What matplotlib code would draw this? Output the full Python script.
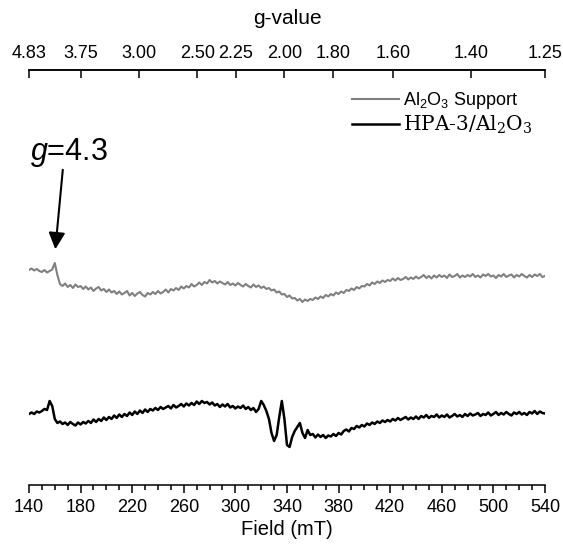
import matplotlib
matplotlib.use("Agg")
import matplotlib.pyplot as plt
import numpy as np

plt.rcParams['font.family'] = ['Liberation Sans', 'DejaVu Sans']
plt.rcParams['mathtext.fontset'] = 'custom'
plt.rcParams['mathtext.rm'] = 'Liberation Sans'
plt.rcParams['mathtext.it'] = 'Liberation Sans:italic'

# spectra sampled every 2 mT from 140 to 540 mT (intensity in arbitrary units, offset)
field = np.arange(140, 541, 2)

int_support = [
    215, 216.5, 214.5, 216, 214, 213, 215, 212.5, 214, 215.5,
    222, 210, 201, 199, 201.5, 198, 200, 197, 200.5, 198,
    199, 196, 198.5, 195.5, 197.5, 194, 196.5, 198, 194.5, 196,
    193, 195.5, 192.5, 194, 191, 193.5, 190.5, 192, 194, 189.5,
    192, 189, 191.5, 193, 190, 188.5, 192, 190.5, 193, 191,
    194, 191.5, 193, 195.5, 192.5, 196, 194.5, 197, 195, 198.5,
    196.5, 199, 197.5, 201, 198.5, 200, 202.5, 200, 203, 201.5,
    205, 202.5, 204, 201.5, 203.5, 202, 200.5, 203, 200, 201.5,
    199.5, 202, 200, 198.5, 201, 199, 197.5, 200.5, 198, 199.5,
    197, 198.5, 196, 197, 194.5, 195.5, 192.5, 193.5, 190.5, 191,
    188, 189.5, 186.5, 187, 184.5, 186, 183, 185.5, 184, 186,
    185, 187.5, 186, 188.5, 187, 190, 188.5, 191, 189.5, 192.5,
    191, 193.5, 192, 195, 194, 196.5, 195, 198, 196.5, 199,
    198.5, 201, 199.5, 202.5, 201, 203.5, 202, 204.5, 203, 205,
    204, 206.5, 204.5, 207, 205, 206, 208, 205.5, 207.5, 206,
    208.5, 206.5, 208, 210, 207, 209, 206.5, 209.5, 207.5, 210,
    208, 209.5, 207, 210.5, 208, 209, 211, 207.5, 209.5, 208,
    210, 208.5, 211, 208, 209.5, 207.5, 210.5, 209, 211, 208.5,
    209.5, 207, 210, 208.5, 211, 208, 209.5, 210.5, 207.5, 210,
    208.5, 211, 209, 207.5, 210, 208, 210.5, 209, 211, 208,
    209]

int_hpa = [
    71, 72.5, 71, 73.5, 72.5, 74, 76, 75, 84, 79,
    66, 62, 63.5, 61, 62.5, 60, 63, 61, 59.5, 62.5,
    60.5, 63, 61.5, 64, 62, 65.5, 63, 66, 64, 67.5,
    65, 68, 66, 69.5, 67, 70.5, 68, 71, 69, 72.5,
    70, 73.5, 71, 74.5, 72, 75.5, 73, 76, 74.5, 77,
    75, 78, 76, 77.5, 79, 76.5, 80, 77.5, 79, 81,
    78.5, 81.5, 79.5, 82, 80, 83.5, 81, 84, 82, 83,
    80.5, 82.5, 79.5, 81, 78, 80.5, 78.5, 81, 77.5, 79,
    76.5, 78.5, 77, 79.5, 76, 78, 75, 77, 73, 76,
    84, 80, 74, 66, 52, 44, 50, 68, 84, 66,
    40, 38, 48, 54, 58, 62, 52, 47, 55, 50,
    51, 47.5, 50.5, 48, 50, 47, 49.5, 48.5, 51, 49,
    52, 50.5, 54, 55.5, 53.5, 57, 56, 59, 57.5, 60,
    58.5, 61.5, 60, 62.5, 61, 63.5, 62, 64.5, 63, 65,
    63.5, 66, 64.5, 67, 65, 66.5, 68, 65.5, 67.5, 66,
    68.5, 66, 69, 67.5, 70, 67, 69, 68, 70.5, 67.5,
    69.5, 68, 70.5, 67.5, 69, 71, 68.5, 70, 68, 71,
    69, 71.5, 69.5, 70.5, 72, 69, 71, 70, 72.5, 69.5,
    71, 73, 70, 72, 70.5, 73, 71, 69.5, 72.5, 71,
    73, 70.5, 72, 70, 73, 71.5, 74, 71, 73.5, 72,
    71.5]

g_ticks = [4.83, 3.75, 3.00, 2.50, 2.25, 2.00, 1.80, 1.60, 1.40, 1.25]
g_labels = ['4.83', '3.75', '3.00', '2.50', '2.25', '2.00', '1.80', '1.60', '1.40', '1.25']
hv_over_mub = 676.0  # field (mT) * g

fig = plt.figure(figsize=(5.63, 5.49), dpi=100)
ax = fig.add_axes([0.0515, 0.1166, 0.9165, 0.7559])

ax.plot(field, int_support, color='#808080', lw=1.5, label='Al$_2$O$_3$ Support')
ax.plot(field, int_hpa, color='black', lw=1.8, label='HPA-3/Al$_2$O$_3$')

ax.set_xlim(140, 540)
ax.set_ylim(0, 415)
ax.set_xticks(np.arange(140, 541, 40))
ax.set_xticks(np.arange(140, 541, 10), minor=True)
ax.tick_params(axis='x', which='major', direction='out', length=6, width=1.1, labelsize=13, pad=4)
ax.tick_params(axis='x', which='minor', direction='out', length=3.5, width=1.1)
ax.set_yticks([])
ax.set_xlabel('Field (mT)', fontsize=14.5, labelpad=3)

for s in ['left', 'right']:
    ax.spines[s].set_visible(False)
for s in ['top', 'bottom']:
    ax.spines[s].set_linewidth(1.1)

top = ax.twiny()
top.set_xlim(ax.get_xlim())
top.set_xticks(np.clip(hv_over_mub / np.array(g_ticks), 140, 540))
top.set_xticklabels(g_labels)
top.tick_params(axis='x', direction='in', length=6, width=1.1, labelsize=13, pad=6)
top.set_xlabel('g-value', fontsize=15, labelpad=15)
for s in ['left', 'right', 'bottom']:
    top.spines[s].set_visible(False)
top.spines['top'].set_linewidth(1.1)

# g = 4.3 marker
ax.text(141, 325, '$g$=4.3', fontsize=22)
ax.annotate('', xy=(160.2, 233), xytext=(166.4, 318),
            arrowprops=dict(arrowstyle='-|>', color='black', lw=1.5, mutation_scale=25))

leg = ax.legend(loc='upper left', bbox_to_anchor=(352 / 563, 1 - 90 / 549),
                bbox_transform=fig.transFigure, frameon=False, fontsize=13,
                handlelength=2.6, handletextpad=0.2, borderpad=0, borderaxespad=0,
                labelspacing=0.15)
t2 = leg.get_texts()[1]
t2.set_family('DejaVu Serif')
t2.set_math_fontfamily('dejavuserif')
t2.set_fontsize(14.5)

fig.savefig('out.png', dpi=100)
